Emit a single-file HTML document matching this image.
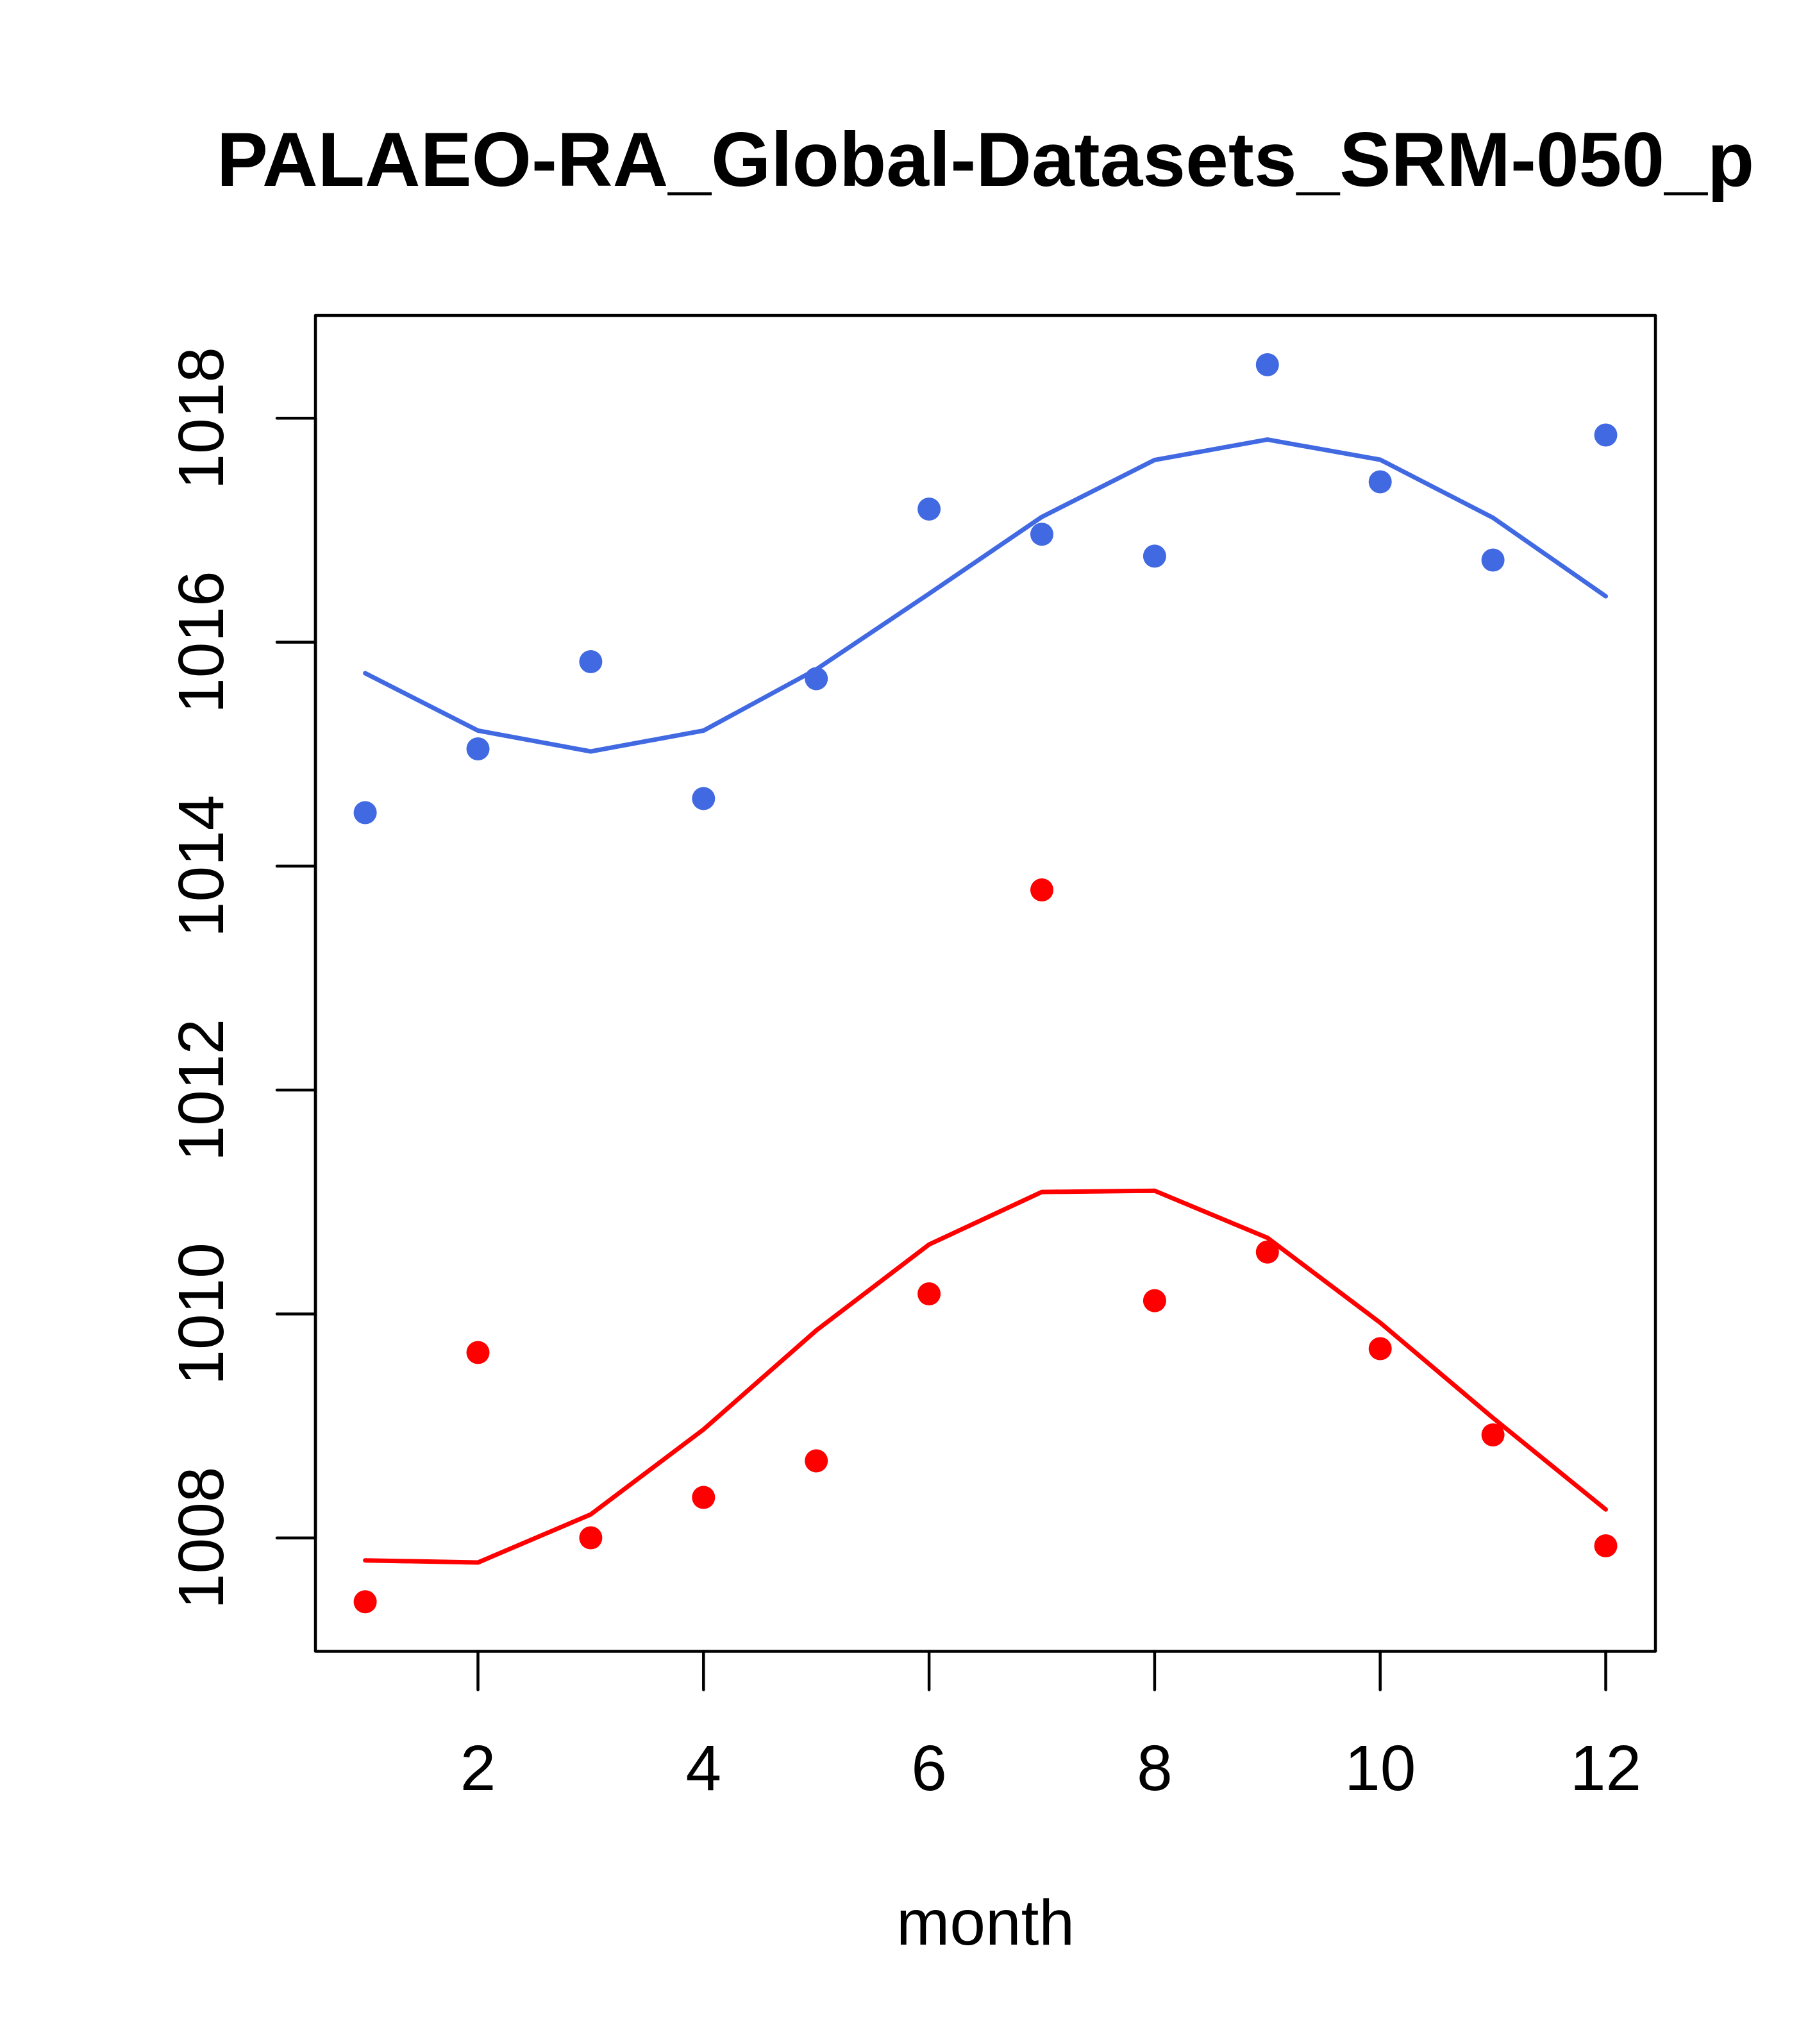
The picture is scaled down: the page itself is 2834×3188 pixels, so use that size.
<!DOCTYPE html>
<html>
<head>
<meta charset="utf-8">
<style>
html,body{margin:0;padding:0;background:#fff;}
svg{display:block;}
text{font-family:"Liberation Sans",Arial,Helvetica,sans-serif;fill:#000;}
</style>
</head>
<body>
<svg width="2834" height="3188" viewBox="0 0 2834 3188" xmlns="http://www.w3.org/2000/svg">
<rect x="0" y="0" width="2834" height="3188" fill="#fff"/>

<!-- title -->
<text x="1537" y="290" text-anchor="middle" font-size="120" font-weight="bold">PALAEO-RA_Global-Datasets_SRM-050_p</text>

<!-- plot box -->
<rect x="492" y="492" width="2090" height="2083.5" fill="none" stroke="#000" stroke-width="4.5" stroke-linejoin="round"/>

<!-- y axis ticks -->
<g stroke="#000" stroke-width="4.5" stroke-linecap="round">
<line x1="432" y1="2398.7" x2="492" y2="2398.7"/>
<line x1="432" y1="2049.4" x2="492" y2="2049.4"/>
<line x1="432" y1="1700.1" x2="492" y2="1700.1"/>
<line x1="432" y1="1350.9" x2="492" y2="1350.9"/>
<line x1="432" y1="1001.6" x2="492" y2="1001.6"/>
<line x1="432" y1="652.3" x2="492" y2="652.3"/>
<line x1="492" y1="652.3" x2="492" y2="2398.7"/>
</g>
<g font-size="100" text-anchor="middle">
<text transform="translate(348,2398.7) rotate(-90)">1008</text>
<text transform="translate(348,2049.4) rotate(-90)">1010</text>
<text transform="translate(348,1700.1) rotate(-90)">1012</text>
<text transform="translate(348,1350.9) rotate(-90)">1014</text>
<text transform="translate(348,1001.6) rotate(-90)">1016</text>
<text transform="translate(348,652.3) rotate(-90)">1018</text>
</g>

<!-- x axis ticks -->
<g stroke="#000" stroke-width="4.5" stroke-linecap="round">
<line x1="745.5" y1="2575.5" x2="745.5" y2="2635.5"/>
<line x1="1097.3" y1="2575.5" x2="1097.3" y2="2635.5"/>
<line x1="1449.1" y1="2575.5" x2="1449.1" y2="2635.5"/>
<line x1="1800.9" y1="2575.5" x2="1800.9" y2="2635.5"/>
<line x1="2152.7" y1="2575.5" x2="2152.7" y2="2635.5"/>
<line x1="2504.5" y1="2575.5" x2="2504.5" y2="2635.5"/>
</g>
<g font-size="100" text-anchor="middle">
<text x="745.5" y="2792">2</text>
<text x="1097.3" y="2792">4</text>
<text x="1449.1" y="2792">6</text>
<text x="1800.9" y="2792">8</text>
<text x="2152.7" y="2792">10</text>
<text x="2504.5" y="2792">12</text>
</g>
<text x="1537" y="3033" text-anchor="middle" font-size="100">month</text>

<!-- blue series -->
<polyline fill="none" stroke="#4169E1" stroke-width="7" stroke-linejoin="round" stroke-linecap="round"
points="569.6,1050 745.5,1139.5 921.4,1172 1097.3,1139.5 1273.2,1044 1449.1,926 1625,806.2 1800.9,717.4 1976.8,685.6 2152.7,717 2328.6,807.5 2504.5,930"/>
<g fill="#4169E1">
<circle cx="569.6" cy="1267.5" r="18"/>
<circle cx="745.5" cy="1168" r="18"/>
<circle cx="921.4" cy="1032" r="18"/>
<circle cx="1097.3" cy="1245.5" r="18"/>
<circle cx="1273.2" cy="1058.5" r="18"/>
<circle cx="1449.1" cy="794" r="18"/>
<circle cx="1625" cy="833.3" r="18"/>
<circle cx="1800.9" cy="867.4" r="18"/>
<circle cx="1976.8" cy="568.9" r="18"/>
<circle cx="2152.7" cy="751.5" r="18"/>
<circle cx="2328.6" cy="873.5" r="18"/>
<circle cx="2504.5" cy="678.5" r="18"/>
</g>

<!-- red series -->
<polyline fill="none" stroke="#FF0000" stroke-width="7" stroke-linejoin="round" stroke-linecap="round"
points="569.6,2433.7 745.5,2437 921.4,2362 1097.3,2229.5 1273.2,2075 1449.1,1941 1625,1859.1 1800.9,1857.2 1976.8,1930.6 2152.7,2063 2328.6,2211.5 2504.5,2354.3"/>
<g fill="#FF0000">
<circle cx="569.6" cy="2498.3" r="18"/>
<circle cx="745.5" cy="2109.5" r="18"/>
<circle cx="921.4" cy="2398.5" r="18"/>
<circle cx="1097.3" cy="2335.5" r="18"/>
<circle cx="1273.2" cy="2278.5" r="18"/>
<circle cx="1449.1" cy="2018" r="18"/>
<circle cx="1625" cy="1388" r="18"/>
<circle cx="1800.9" cy="2028.6" r="18"/>
<circle cx="1976.8" cy="1952.8" r="18"/>
<circle cx="2152.7" cy="2103.5" r="18"/>
<circle cx="2328.6" cy="2238" r="18"/>
<circle cx="2504.5" cy="2411" r="18"/>
</g>
</svg>
</body>
</html>
